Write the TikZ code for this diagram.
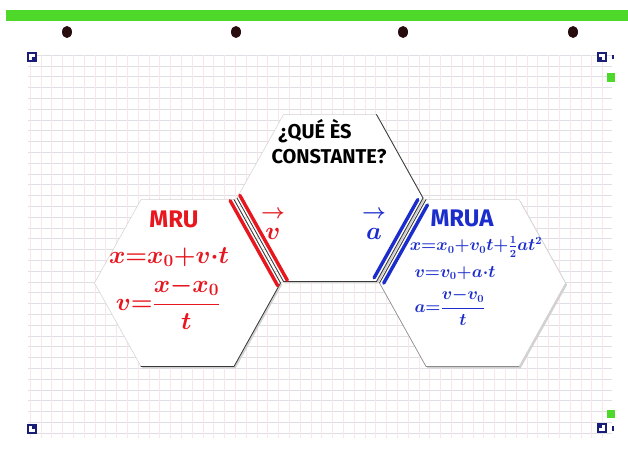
\documentclass[tikz,border=0pt]{standalone}
\usepackage{amsmath}
\usepackage{fontspec}
\setsansfont{Fira Sans}
\usetikzlibrary{calc}
\definecolor{mred}{RGB}{232,22,30}
\definecolor{mblue}{RGB}{28,45,205}
\definecolor{barg}{RGB}{78,216,42}
\definecolor{marknavy}{RGB}{24,30,120}
\definecolor{hgrid}{RGB}{222,222,228}
\definecolor{vgrid}{RGB}{248,230,232}
\definecolor{dotc}{RGB}{40,12,14}
\tikzset{
  hexfill/.style={fill=white},
  hexshadow/.style={fill=black!18},
  faintedge/.style={draw=black!18, line width=0.5pt},
  darkedge/.style={draw=black!78, line width=0.8pt, line cap=round},
  midedge/.style={draw=black!45, line width=0.6pt, line cap=round},
  redstroke/.style={draw=mred, line width=3.4pt, line cap=round},
  bluestroke/.style={draw=mblue, line width=3.4pt, line cap=round},
  qtext/.style={font=\sffamily\bfseries\fontsize{20}{22}\selectfont, text=black, inner sep=0pt},
  titlered/.style={font=\sffamily\bfseries\fontsize{24}{26}\selectfont, text=mred, inner sep=0pt},
  titleblue/.style={font=\sffamily\bfseries\fontsize{24}{26}\selectfont, text=mblue, inner sep=0pt},
  formred/.style={font=\fontsize{23}{26}\selectfont\boldmath, text=mred, inner sep=0pt},
  formblue/.style={font=\fontsize{16}{19}\selectfont\boldmath, text=mblue, inner sep=0pt},
  veclabel/.style={font=\fontsize{30}{32}\selectfont\boldmath, inner sep=0pt},
}
\begin{document}
\begin{tikzpicture}[x=1pt,y=-1pt]
\useasboundingbox (0,0) rectangle (628,452);
\fill[white] (0,0) rectangle (628,452);
% grid
\foreach \yy in {55,65.8,...,441} \draw[hgrid, line width=0.45pt] (28,\yy) -- (612,\yy);
\foreach \xx in {30,40.8,...,612} \draw[vgrid, line width=0.4pt] (\xx,55) -- (\xx,438);
% top green bar and punch holes
\fill[barg] (6,10) rectangle (628,21);
\foreach \dx in {67,236,403,573} \fill[dotc] (\dx,32) ellipse (5 and 6);
% corner marks
\fill[marknavy] (27,52) rectangle (37,62);
\fill[white] (29,54) rectangle (35,60);
\fill[marknavy] (32,57) rectangle (35,60);
\fill[marknavy] (597,52) rectangle (607,62);
\fill[white] (599,54) rectangle (605,60);
\fill[marknavy] (599,57) rectangle (602,60);
\fill[marknavy] (612,55) rectangle (614,59);
\fill[barg] (607,73) rectangle (615,82);
\fill[barg] (607,410) rectangle (615,418);
\fill[marknavy] (27,424) rectangle (37,434);
\fill[white] (29,426) rectangle (35,432);
\fill[marknavy] (32,426) rectangle (35,429);
\fill[marknavy] (597,423) rectangle (607,433);
\fill[white] (599,425) rectangle (605,431);
\fill[marknavy] (599,425) rectangle (602,428);
\fill[marknavy] (612,426) rectangle (614,431);
% hexagon vertices
\foreach \n/\cx/\cy in {L/187.5/283, C/330/198, R/472.5/283}{
  \coordinate (\n1) at (\cx+93,\cy);
  \coordinate (\n2) at (\cx+46.5,\cy-83.5);
  \coordinate (\n3) at (\cx-46.5,\cy-83.5);
  \coordinate (\n4) at (\cx-93,\cy);
  \coordinate (\n5) at (\cx-46.5,\cy+83.5);
  \coordinate (\n6) at (\cx+46.5,\cy+83.5);
}
% shadows
\foreach \n in {L,C,R}{
  \fill[hexshadow] ([shift={(1.6,1.8)}]\n1) -- ([shift={(1.6,1.8)}]\n2) -- ([shift={(1.6,1.8)}]\n3) -- ([shift={(1.6,1.8)}]\n4) -- ([shift={(1.6,1.8)}]\n5) -- ([shift={(1.6,1.8)}]\n6) -- cycle;
}
\foreach \n in {L,C,R}{
  \fill[hexfill] (\n1) -- (\n2) -- (\n3) -- (\n4) -- (\n5) -- (\n6) -- cycle;
  \draw[faintedge] (\n1) -- (\n2) -- (\n3) -- (\n4) -- (\n5) -- (\n6) -- cycle;
}
% darker edges
\draw[darkedge] (L2) -- (L1) -- (L6) -- (L5);
\draw[darkedge] (C4) -- (C5) -- (C6) -- (C1) -- (C2);
\draw[darkedge] (R3) -- (R4);
\draw[midedge] (R4) -- (R5) -- (R6);
% shared-edge mid lines
\coordinate (ma) at (235,198);
\coordinate (mb) at (282.5,283);
\coordinate (na) at (425,198);
\coordinate (nb) at (377.5,283);
% red double stroke
\draw[redstroke] ($(ma)!5.5pt!90:(mb)$) -- ($(mb)!5.5pt!-90:(ma)$);
\draw[redstroke] ($(ma)!5.5pt!-90:(mb)$) -- ($(mb)!5.5pt!90:(ma)$);
% blue double stroke
\coordinate (nas) at ($(na)!0.05!(nb)$);
\coordinate (nbs) at ($(na)!0.97!(nb)$);
\draw[bluestroke] ($(nas)!5.5pt!90:(nbs)$) -- ($(nbs)!5.5pt!-90:(nas)$);
\draw[bluestroke] ($(nas)!5.5pt!-90:(nbs)$) -- ($(nbs)!5.5pt!90:(nas)$);
% texts
\node[qtext] (q1) at (315,131) {¿QUÉ ÈS};
\node[qtext] (q2) at (329,157) {CONSTANTE?};
\node[titlered] (mru) at (174,219) {MRU};
\node[formred] (mruf1) at (169,257) {$x{=}x_0{+}v{\cdot}t$};
\node[formred] (mruf2) at (168,303) {$v{=}\dfrac{x{-}x_0}{t}$};
\node[veclabel, text=mred] (vv) at (273,224) {$\overset{\rightarrow}{\vphantom{t}v}$};
\node[veclabel, text=mblue] (va) at (374,224) {$\overset{\rightarrow}{\vphantom{t}a}$};
\node[titleblue] (mrua) at (462,218) {MRUA};
\node[formblue] (mruaf1) at (476,247) {$x{=}x_0{+}v_0t{+}\tfrac{1}{2}at^2$};
\node[formblue] (mruaf2) at (455,273) {$v{=}v_0{+}a{\cdot}t$};
\node[formblue] (mruaf3) at (450,307) {$a{=}\dfrac{v{-}v_0}{t}$};
\end{tikzpicture}
\end{document}
